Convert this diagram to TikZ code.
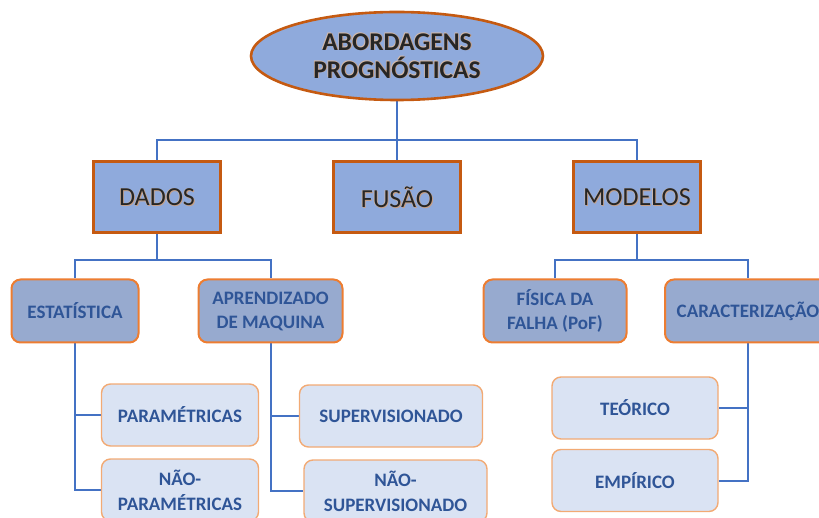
\documentclass[tikz,border=0pt]{standalone}
\usepackage{fontspec}
\setmainfont{Carlito}
\usetikzlibrary{shapes.geometric,backgrounds}
\definecolor{lvlonefill}{HTML}{8FAADC}
\definecolor{lvloneline}{HTML}{C55A11}
\definecolor{lvltwofill}{HTML}{97AACF}
\definecolor{lvltwoline}{HTML}{ED7D31}
\definecolor{lvlthreefill}{HTML}{DAE3F3}
\definecolor{lvlthreeline}{HTML}{F2AA74}
\definecolor{txtblue}{HTML}{2F5597}
\definecolor{connblue}{HTML}{4472C4}
\definecolor{glowbrown}{HTML}{B07850}
\newcommand{\glowtext}[1]{%
  \leavevmode\rlap{\color{glowbrown!70}\kern0.8pt\raisebox{-0.8pt}{#1}}%
  \rlap{\color{glowbrown!50}\kern-0.6pt\raisebox{0.6pt}{#1}}%
  {\color{black!85}#1}}
\tikzset{
  topnode/.style={ellipse, draw=lvloneline, line width=2.6pt, fill=lvlonefill,
    minimum width=292pt, minimum height=88pt, inner sep=0pt, align=center,
    font=\fontsize{25.5}{28}\selectfont\bfseries},
  lvlone/.style={rectangle, draw=lvloneline, line width=3pt, fill=lvlonefill,
    minimum width=127pt, minimum height=71pt, inner sep=0pt, align=center,
    font=\fontsize{26}{28}\selectfont},
  lvltwo/.style={rectangle, rounded corners=9pt, draw=lvltwoline, line width=2pt, fill=lvltwofill,
    minimum height=63pt, inner sep=0pt, align=center, text=txtblue,
    font=\fontsize{19}{24}\selectfont\bfseries},
  lvlthree/.style={rectangle, rounded corners=9pt, draw=lvlthreeline, line width=1.4pt, fill=lvlthreefill,
    minimum height=62pt, inner sep=0pt, align=center, text=txtblue,
    font=\fontsize{19}{25}\selectfont\bfseries},
  conn/.style={draw=connblue, line width=2pt}
}
\begin{document}
\begin{tikzpicture}[x=1pt,y=-1pt]
\useasboundingbox (0,0) rectangle (819,518);
\clip (0,0) rectangle (819,518);
% nodes
\node[topnode] (top) at (397,56) {\glowtext{ABORDAGENS}\\\glowtext{PROGNÓSTICAS}};
\node[lvlone] (dados) at (157,197.5) {\glowtext{DADOS}};
\node[lvlone] (fusao) at (397,197.5) {\glowtext{FUSÃO}};
\node[lvlone] (modelos) at (637,197.5) {\glowtext{MODELOS}};
\node[lvltwo, minimum width=127pt] (estat) at (75,311) {ESTATÍSTICA};
\node[lvltwo, minimum width=144pt] (aprend) at (270.5,311) {APRENDIZADO\\DE MAQUINA};
\node[lvltwo, minimum width=143pt] (fisica) at (555,311) {FÍSICA DA\\FALHA (PoF)};
\node[lvltwo, minimum width=166pt] (carac) at (748,311) {CARACTERIZAÇÃO};
\node[lvlthree, minimum width=157pt] (param) at (180,415) {PARAMÉTRICAS};
\node[lvlthree, minimum width=157pt] (naoparam) at (180,490) {NÃO-\\PARAMÉTRICAS};
\node[lvlthree, minimum width=183pt] (superv) at (391,416) {SUPERVISIONADO};
\node[lvlthree, minimum width=183pt] (naosuperv) at (395.5,491) {NÃO-\\SUPERVISIONADO};
\node[lvlthree, minimum width=166pt] (teorico) at (635,408) {TEÓRICO};
\node[lvlthree, minimum width=166pt] (empirico) at (635,480.5) {EMPÍRICO};
% connector junctions
\coordinate (busone) at (397,140);
\coordinate (bustwo) at (0,260);
% connectors
\begin{scope}[on background layer]
\draw[conn] (top.south) -- (fusao.north);
\draw[conn] (dados.north) |- (busone) -| (modelos.north);
\draw[conn] (dados.south) -- (dados.south |- bustwo);
\draw[conn] (estat.north) |- (dados.south |- bustwo) -| (aprend.north);
\draw[conn] (modelos.south) -- (modelos.south |- bustwo);
\draw[conn] (fisica.north) |- (modelos.south |- bustwo) -| (carac.north);
\draw[conn] (estat.south) |- (param.west);
\draw[conn] (estat.south) |- (naoparam.west);
\draw[conn] (aprend.south) |- (superv.west);
\draw[conn] (aprend.south) |- (naosuperv.west);
\draw[conn] (carac.south) |- (teorico.east);
\draw[conn] (carac.south) |- (empirico.east);
\end{scope}
\end{tikzpicture}
\end{document}
